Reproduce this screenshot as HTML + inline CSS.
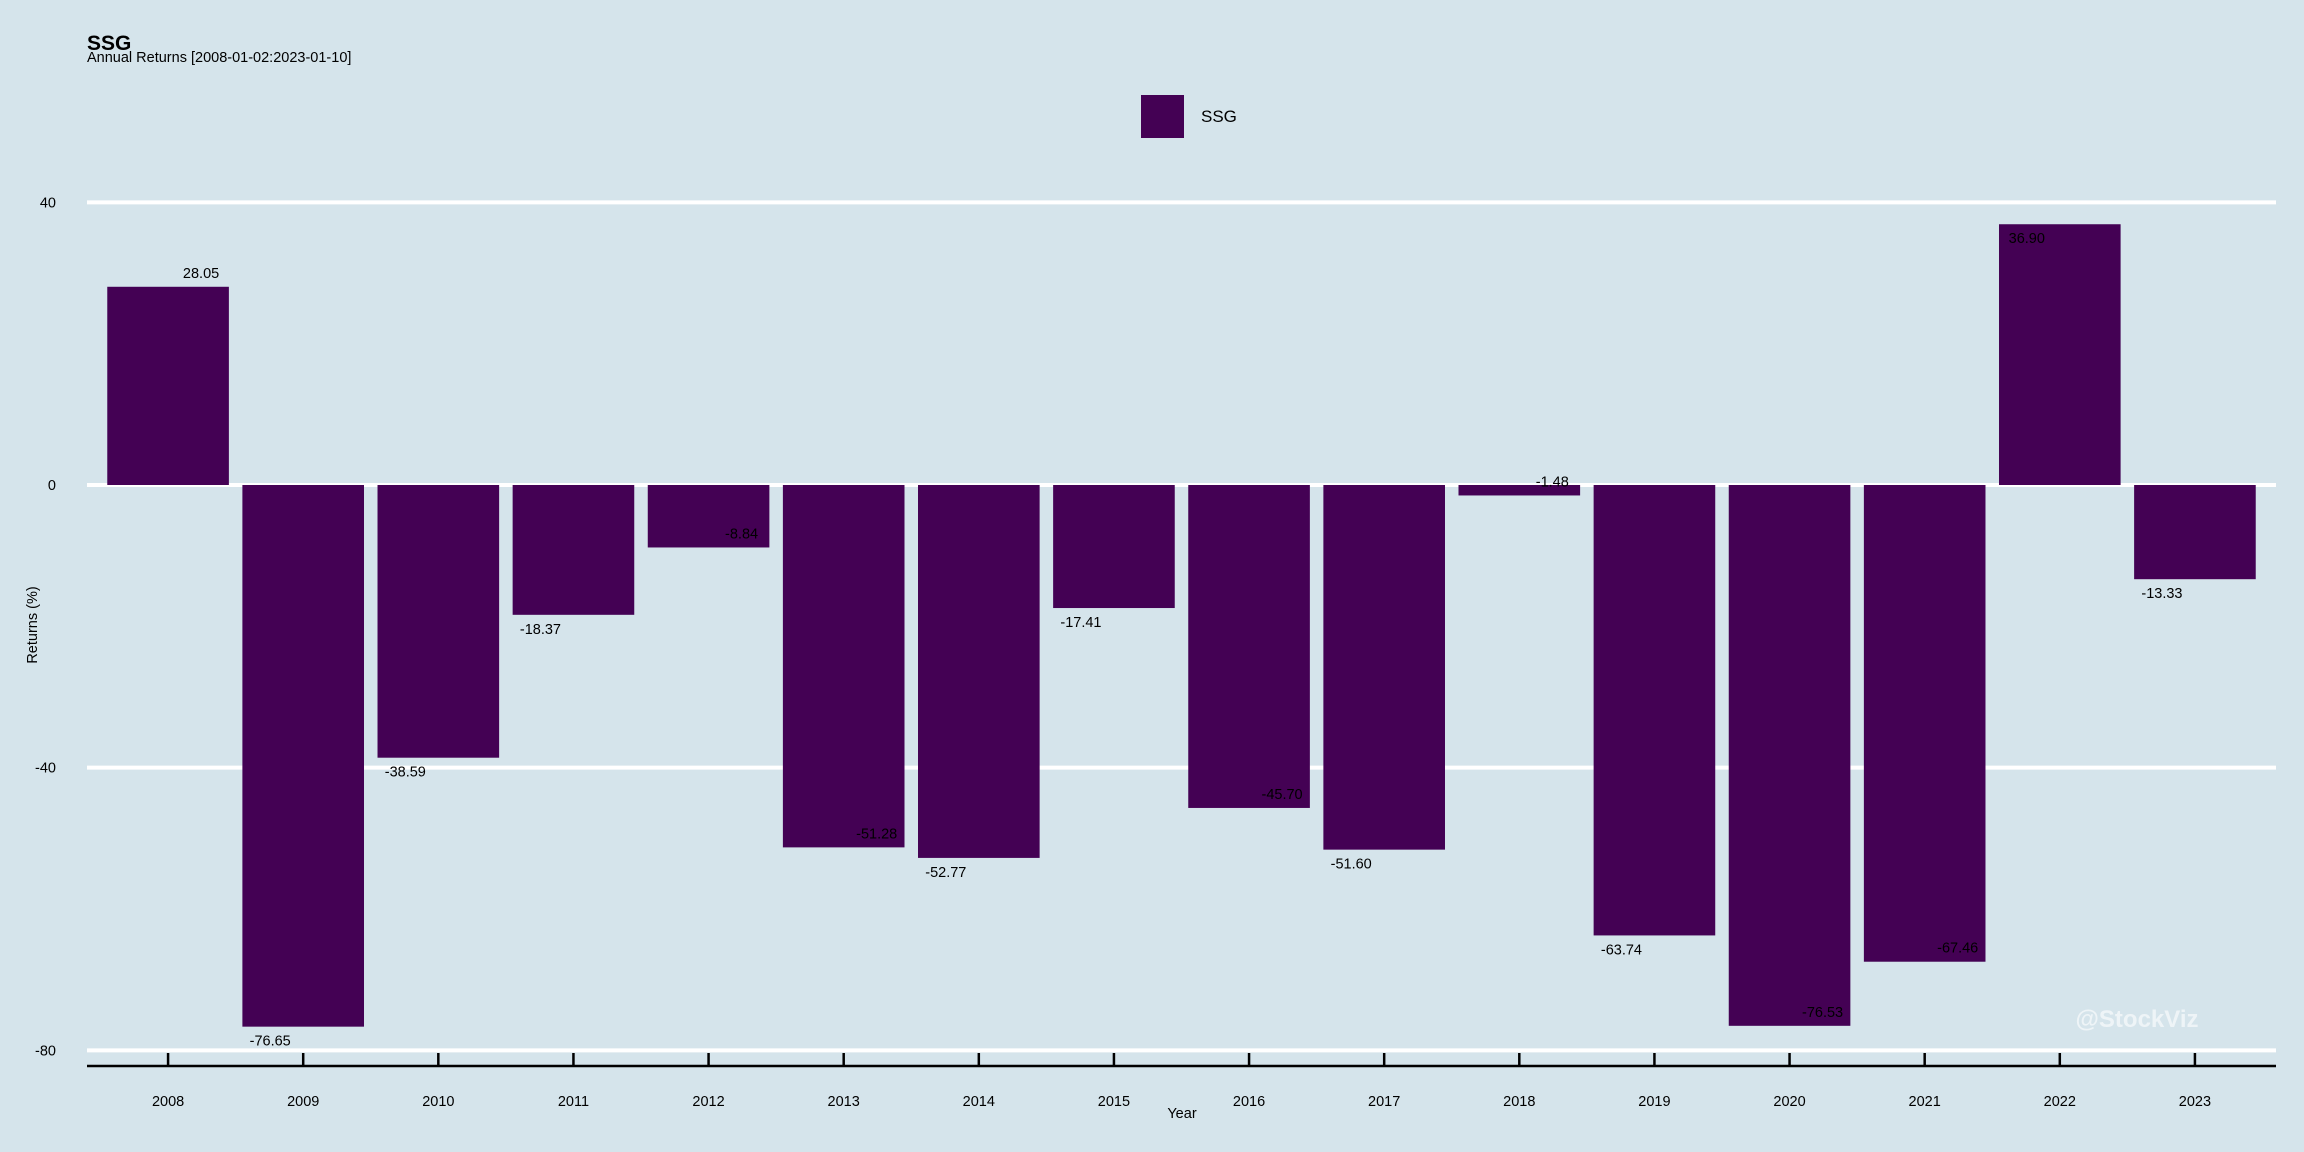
<!DOCTYPE html>
<html><head><meta charset="utf-8"><style>
body{margin:0;background:#d5e4eb;}
svg{display:block;font-family:"Liberation Sans",sans-serif;}
</style></head><body>
<svg id="chart" width="2304" height="1152" viewBox="0 0 2304 1152">
<rect width="2304" height="1152" fill="#d5e4eb"/>
<text x="87" y="50" font-size="21" font-weight="bold" fill="#000">SSG</text>
<text x="87" y="62" font-size="14.5" fill="#000">Annual Returns [2008-01-02:2023-01-10]</text>
<rect x="1141" y="95" width="43" height="43" fill="#440154"/>
<text x="1201" y="122" font-size="17" fill="#000">SSG</text>
<g id="grid"></g>
<g id="bars"></g>
<g id="labels"></g>
<g id="axis"></g>
<text transform="translate(37,625) rotate(-90)" text-anchor="middle" font-size="14.5" fill="#000">Returns (%)</text>
<text x="1182" y="1118" text-anchor="middle" font-size="14.5" fill="#000">Year</text>
<text x="2137" y="1027" text-anchor="middle" font-size="24" font-weight="bold" fill="#ffffff" fill-opacity="0.6">@StockViz</text>
</svg>
<script>
const years = ["2008","2009","2010","2011","2012","2013","2014","2015","2016","2017","2018","2019","2020","2021","2022","2023"];
const returns = [28.05,-76.65,-38.59,-18.37,-8.84,-51.28,-52.77,-17.41,-45.70,-51.60,-1.48,-63.74,-76.53,-67.46,36.90,-13.33];
const yTicks = [40,0,-40,-80];
const labelSide = [1,-1,-1,-1,1,1,-1,-1,1,-1,1,-1,1,1,-1,-1];
const labelOut = [1,1,1,1,0,0,1,1,0,1,0,1,0,0,0,1];

const NS="http://www.w3.org/2000/svg";
const left=87,right=2276,y0=485,pxPerUnit=(1049-201)/120;
const band=(right-left)/(years.length+0.2);
function xC(i){return left+band*(0.6+i);}
function yS(v){return y0-v*pxPerUnit;}
function mk(tag,attrs,parent){const e=document.createElementNS(NS,tag);for(const k in attrs)e.setAttribute(k,attrs[k]);parent.appendChild(e);return e;}
const grid=document.getElementById('grid'),bars=document.getElementById('bars'),labels=document.getElementById('labels'),axis=document.getElementById('axis');
yTicks.forEach(t=>{
  const l=mk('line',{x1:left,x2:right,y1:yS(t),y2:yS(t),stroke:'#fff','stroke-width':4},grid);
  
  
  const tx=mk('text',{x:56,y:yS(t)+5,'text-anchor':'end','font-size':14.5,fill:'#000'},grid);
  tx.textContent=t;
  
  
});
const bw=band*0.9;
returns.forEach((v,i)=>{
  const c=xC(i),top=Math.min(yS(v),y0),h=Math.abs(yS(v)-y0);
  const r=mk('rect',{x:c-bw/2,y:top,width:bw,height:h,fill:'#440154'},bars);
  
  
  const end=yS(v),away=v>=0?-1:1;
  const dir=labelOut[i]?away:-away;
  const ly=end+dir*14+5;
  const t=mk('text',{x:c+labelSide[i]*33,y:ly,'text-anchor':'middle','font-size':14.5,fill:'#000'},labels);
  t.textContent=v.toFixed(2);
  
  
  const tk=mk('line',{x1:c,x2:c,y1:1053,y2:1066,stroke:'#000','stroke-width':2.5},axis);
  
  
  const xl=mk('text',{x:c,y:1106,'text-anchor':'middle','font-size':14.5,fill:'#000'},axis);
  xl.textContent=years[i];
  
  
});
const ax=mk('line',{x1:left,x2:right,y1:1066,y2:1066,stroke:'#000','stroke-width':2.5},axis);


</script>
</body></html>
